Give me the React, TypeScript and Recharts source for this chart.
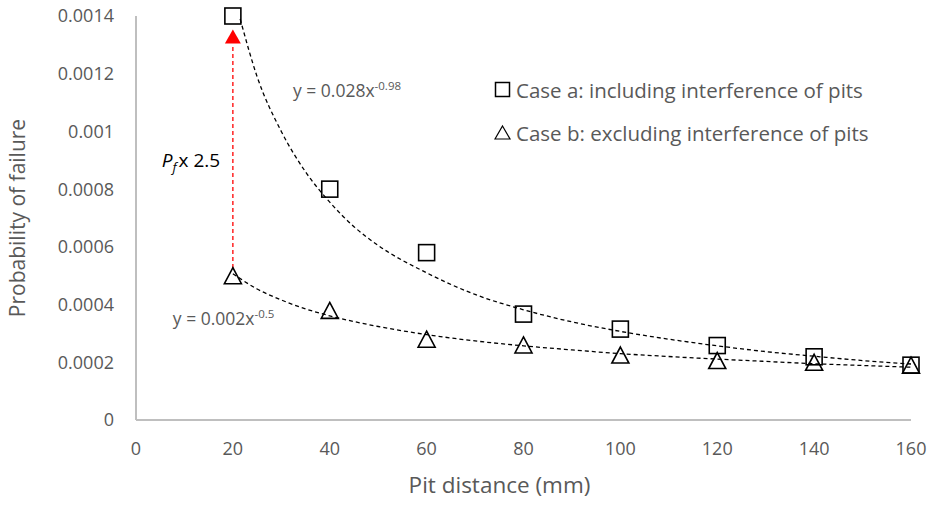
import React from "react";
import {
  ComposedChart,
  Line,
  Scatter,
  XAxis,
  YAxis,
  Label,
  ReferenceLine,
  ReferenceDot,
} from "recharts";

// measured points
const pitDistance = [20, 40, 60, 80, 100, 120, 140, 160];
const caseA = [0.0014, 0.0008, 0.00058, 0.000367, 0.000315, 0.000258, 0.000219, 0.00019];
const caseB = [0.0005, 0.00038, 0.00028, 0.00026, 0.000225, 0.000206, 0.0002, 0.00019];

// power trendlines
const trendAx = [21.5, 25, 30, 35, 40, 45, 50, 60, 70, 80, 90, 100, 110, 120, 130, 140, 150, 160];
const trendAy = [
  0.00139, 0.00119, 0.001, 0.00086, 0.000755, 0.00067, 0.000605, 0.00051, 0.000435, 0.000382,
  0.00034, 0.000307, 0.00028, 0.000257, 0.000237, 0.000221, 0.000206, 0.000194,
];
const trendBx = [20, 25, 30, 35, 40, 50, 60, 70, 80, 90, 100, 110, 120, 130, 140, 150, 160];
const trendBy = [
  0.000507, 0.000454, 0.000416, 0.000385, 0.000361, 0.000324, 0.000296, 0.000274, 0.000257,
  0.000243, 0.00023, 0.00022, 0.000211, 0.000203, 0.000195, 0.000189, 0.000183,
];

const xTicks = [0, 20, 40, 60, 80, 100, 120, 140, 160];
const yTicks = [0, 0.0002, 0.0004, 0.0006, 0.0008, 0.001, 0.0012, 0.0014];

const labelA = "Case a: including interference of pits";
const labelB = "Case b: excluding interference of pits";

const pointsA = pitDistance.map((x, i) => ({ x, y: caseA[i] }));
const pointsB = pitDistance.map((x, i) => ({ x, y: caseB[i] }));
const lineA = trendAx.map((x, i) => ({ x, y: trendAy[i] }));
const lineB = trendBx.map((x, i) => ({ x, y: trendBy[i] }));

const FONT = "'Open Sans', sans-serif";
const GRAY = "#595959";
const AXIS = "#bfbfbf";

function Square(props: any) {
  const { cx, cy } = props;
  return <rect x={cx - 8} y={cy - 8} width={16} height={16} fill="none" stroke="#000" strokeWidth={1.6} />;
}

function Triangle(props: any) {
  const { cx, cy } = props;
  return (
    <polygon
      points={`${cx},${cy - 8} ${cx + 8.5},${cy + 8} ${cx - 8.5},${cy + 8}`}
      fill="none"
      stroke="#000"
      strokeWidth={1.6}
    />
  );
}

function Equation({ cx, cy, base, exp }: any) {
  return (
    <text x={cx} y={cy} fill={GRAY} fontFamily={FONT} fontSize={17.5}>
      {base}
      <tspan dy={-7} fontSize={11.5}>
        {exp}
      </tspan>
    </text>
  );
}

function LegendBox() {
  const row = { display: "flex", alignItems: "center", height: 43, whiteSpace: "nowrap" } as const;
  return (
    <div
      style={{
        position: "absolute",
        left: 494,
        top: 68,
        fontFamily: FONT,
        fontSize: 20.5,
        color: GRAY,
      }}
    >
      <div style={row}>
        <svg width={18} height={20} style={{ marginRight: 4 }}>
          <rect x={1.5} y={2.5} width={14} height={14} fill="none" stroke="#000" strokeWidth={1.5} />
        </svg>
        {labelA}
      </div>
      <div style={row}>
        <svg width={18} height={20} style={{ marginRight: 4 }}>
          <polygon points="8.5,3 16,16 1,16" fill="none" stroke="#000" strokeWidth={1.2} />
        </svg>
        {labelB}
      </div>
    </div>
  );
}

export default function App() {
  return (
    <div style={{ position: "absolute", left: 0, top: 0, width: 928, height: 506, background: "#fff" }}>
      <ComposedChart width={928} height={506} margin={{ top: 16, right: 17, left: 0, bottom: 0 }}>
        <XAxis
          type="number"
          dataKey="x"
          domain={[0, 160]}
          ticks={xTicks}
          height={86}
          stroke={AXIS}
          strokeWidth={2}
          tickLine={false}
          tickSize={0}
          tickMargin={22}
          tick={{ fill: GRAY, fontSize: 18, fontFamily: FONT }}
        >
          <Label
            value="Pit distance (mm)"
            position="insideBottom"
            offset={13}
            dx={-24}
            fill={GRAY}
            fontSize={22.5}
            fontFamily={FONT}
          />
        </XAxis>
        <YAxis
          type="number"
          dataKey="y"
          domain={[0, 0.0014]}
          ticks={yTicks}
          width={136}
          stroke={AXIS}
          strokeWidth={2}
          tickLine={false}
          tickSize={0}
          tickMargin={22}
          tick={{ fill: GRAY, fontSize: 18, fontFamily: FONT }}
        >
          <Label
            value="Probability of failure"
            angle={-90}
            position="insideLeft"
            offset={18}
            fill={GRAY}
            fontSize={21}
            fontFamily={FONT}
            style={{ textAnchor: "middle" }}
          />
        </YAxis>
        <ReferenceLine
          segment={[
            { x: 20, y: 0.000527 },
            { x: 20, y: 0.0013 },
          ]}
          stroke="#ff0000"
          strokeWidth={1.3}
          strokeDasharray="4 3"
        />
        <ReferenceDot
          x={20}
          y={0.001305}
          r={0}
          shape={(p: any) => (
            <polygon points={`${p.cx},${p.cy - 14} ${p.cx + 8},${p.cy} ${p.cx - 8},${p.cy}`} fill="#ff0000" />
          )}
        />
        <ReferenceDot
          x={5.3}
          y={0.000877}
          r={0}
          shape={(p: any) => (
            <text x={p.cx} y={p.cy} fill="#000" fontFamily={FONT} fontSize={19}>
              <tspan fontStyle="italic">P</tspan>
              <tspan fontStyle="italic" fontSize={13} dy={5}>
                f
              </tspan>
              <tspan dx={2} dy={-5}>
                x 2.5
              </tspan>
            </text>
          )}
        />
        <ReferenceDot
          x={32.4}
          y={0.00112}
          r={0}
          shape={(p: any) => <Equation cx={p.cx} cy={p.cy} base="y = 0.028x" exp="-0.98" />}
        />
        <ReferenceDot
          x={7.6}
          y={0.000329}
          r={0}
          shape={(p: any) => <Equation cx={p.cx} cy={p.cy} base="y = 0.002x" exp="-0.5" />}
        />
        <Line
          data={lineA}
          dataKey="y"
          type="monotone"
          stroke="#000"
          strokeWidth={1.3}
          strokeDasharray="4 3"
          dot={false}
          activeDot={false}
          isAnimationActive={false}
        />
        <Line
          data={lineB}
          dataKey="y"
          type="monotone"
          stroke="#000"
          strokeWidth={1.3}
          strokeDasharray="4 3"
          dot={false}
          activeDot={false}
          isAnimationActive={false}
        />
        <Scatter name={labelA} data={pointsA} shape={<Square />} isAnimationActive={false} />
        <Scatter name={labelB} data={pointsB} shape={<Triangle />} isAnimationActive={false} />
      </ComposedChart>
      <LegendBox />
    </div>
  );
}
